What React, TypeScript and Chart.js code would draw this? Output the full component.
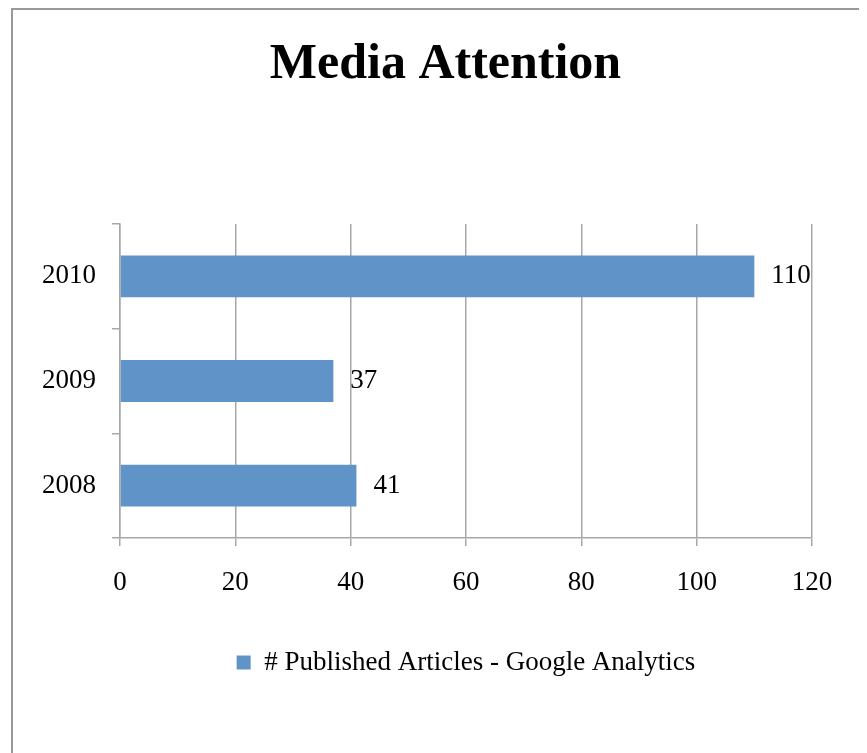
import React, { useEffect, useRef } from "react";
import { Chart, registerables } from "chart.js";

Chart.register(...registerables);

const TITLE = "Media Attention";
const SERIES_LABEL = "# Published Articles - Google Analytics";
const YEARS = ["2008", "2009", "2010"];
const ARTICLES = [41, 37, 110];
const X_MIN = 0;
const X_MAX = 120;
const X_STEP = 20;

const BAR_COLOR = "#6094C9";
const GRID_COLOR = "#A8A8A8";
const FONT_FAMILY = "'Liberation Serif', 'Times New Roman', serif";

const valueLabels = {
  id: "valueLabels",
  afterDatasetsDraw(chart: any) {
    const ctx = chart.ctx;
    const meta = chart.getDatasetMeta(0);
    ctx.save();
    ctx.font = `27px ${FONT_FAMILY}`;
    ctx.fillStyle = "#000";
    ctx.textAlign = "left";
    ctx.textBaseline = "middle";
    meta.data.forEach((bar: any, i: number) => {
      ctx.fillText(String(ARTICLES[i]), bar.x + 17, bar.y);
    });
    ctx.restore();
  },
};

export default function App() {
  const ref = useRef<HTMLCanvasElement | null>(null);
  useEffect(() => {
    if (!ref.current) return;
    const chart = new Chart(ref.current, {
      type: "bar",
      data: {
        labels: YEARS,
        datasets: [
          {
            label: SERIES_LABEL,
            data: ARTICLES,
            backgroundColor: BAR_COLOR,
            borderWidth: 0,
            barPercentage: 0.4,
            categoryPercentage: 1,
            xAxisID: "x",
            yAxisID: "y",
          },
        ],
      },
      options: {
        indexAxis: "y",
        responsive: false,
        animation: false,
        devicePixelRatio: 1,
        layout: { padding: { left: 0, right: 0, top: 0, bottom: 67 } },
        scales: {
          x: {
            min: X_MIN,
            max: X_MAX,
            ticks: {
              stepSize: X_STEP,
              color: "#000",
              font: { family: FONT_FAMILY, size: 27 },
              padding: 21,
            },
            grid: {
              color: GRID_COLOR,
              lineWidth: 1.5,
              tickLength: 8,
              drawTicks: true,
            },
            border: { color: GRID_COLOR, width: 1.5 },
            afterFit: (s: any) => {
              s.height = 101;
            },
          },
          y: {
            reverse: true,
            ticks: {
              color: "#000",
              font: { family: FONT_FAMILY, size: 27 },
              padding: 16,
            },
            grid: {
              offset: true,
              drawOnChartArea: false,
              drawTicks: true,
              tickLength: 8,
              color: GRID_COLOR,
              lineWidth: 1.5,
            },
            border: { color: GRID_COLOR, width: 1.5 },
            afterFit: (s: any) => {
              s.width = 112;
            },
          },
          spacer: {
            type: "linear",
            position: "right",
            display: true,
            grid: { display: false },
            border: { display: false },
            ticks: { display: false },
            afterFit: (s: any) => {
              s.width = 71;
            },
          },
        },
        plugins: {
          title: {
            display: true,
            text: TITLE,
            color: "#000",
            font: { family: FONT_FAMILY, size: 50, weight: "bold" },
            padding: { top: 27, bottom: 129 },
          },
          legend: {
            display: true,
            position: "bottom",
            fullSize: false,
            labels: {
              color: "#000",
              font: { family: FONT_FAMILY, size: 27 },
              boxWidth: 14,
              boxHeight: 14,
              padding: 10,
            },
          },
          tooltip: { enabled: false },
        },
      },
      plugins: [valueLabels],
    });
    return () => chart.destroy();
  }, []);

  return (
    <div style={{ position: "relative", width: 859, height: 745, overflow: "hidden" }}>
      <canvas
        ref={ref}
        width={875}
        height={745}
        style={{ position: "absolute", left: 0, top: 0, width: 875, height: 745 }}
      />
      <div
        style={{
          position: "absolute",
          left: 3,
          top: 0,
          width: 1000,
          height: 1000,
          borderLeft: "2px solid #999",
          borderTop: "2px solid #999",
          pointerEvents: "none",
        }}
      />
    </div>
  );
}
